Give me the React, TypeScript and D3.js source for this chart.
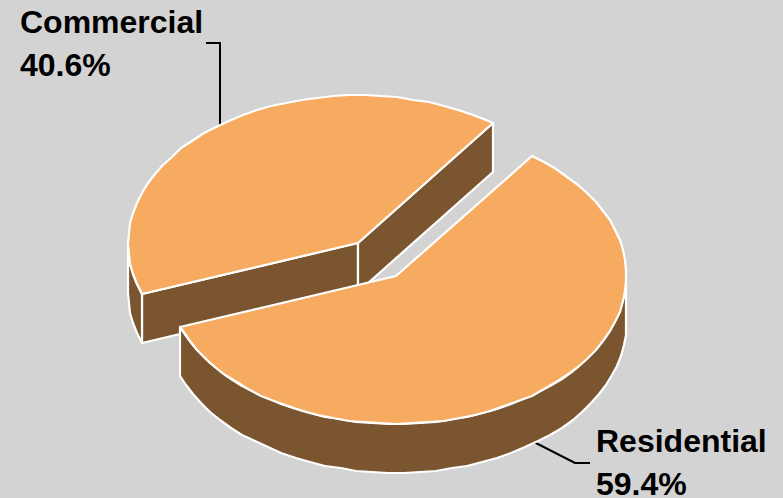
import React from "react";
import * as d3 from "d3";

// Share of the total, in the order the slices run clockwise from the first angle.
const sectors = ["Residential", "Commercial"];
const shares = [59.4, 40.6];
const shareLabels = ["59.4%", "40.6%"];

const WIDTH = 783;
const HEIGHT = 498;
const BACKGROUND = "#D3D3D3";
const TOP_COLOR = "#F7AB60";
const WALL_COLOR = "#7A5530";
const FONT = "'Liberation Sans', Arial, sans-serif";

// Tilted pie: a unit circle squashed into an ellipse, extruded downwards.
const CENTER = { x: 377.2, y: 259.5 };
const RX = 230;
const RY = 148;
const DEPTH = 49;
const EXPLODE = 0.138;
const FIRST_ANGLE = (36 * Math.PI) / 180;
const ARC_STEP = (4 * Math.PI) / 180;

const px = d3.scaleLinear().domain([-1, 1]).range([CENTER.x - RX, CENTER.x + RX]);
const py = d3.scaleLinear().domain([-1, 1]).range([CENTER.y - RY, CENTER.y + RY]);

type Pt = [number, number];
const outline = d3.line<Pt>().x((d) => d[0]).y((d) => d[1]);

const slices = d3
  .pie<number>()
  .sort(null)
  .startAngle(FIRST_ANGLE)
  .endAngle(FIRST_ANGLE + 2 * Math.PI)(shares);

// Rim point of a slice at a clock angle, snapped to whole pixels for the faceted edge.
function rim(angle: number, ox: number, oy: number, drop = 0): Pt {
  return [
    Math.round(px(Math.sin(angle) + ox)),
    Math.round(py(-Math.cos(angle) + oy)) + drop,
  ];
}

function arcPoints(a0: number, a1: number, ox: number, oy: number, drop = 0): Pt[] {
  const pts: Pt[] = [];
  for (let a = a0; a < a1; a += ARC_STEP) pts.push(rim(a, ox, oy, drop));
  pts.push(rim(a1, ox, oy, drop));
  return pts;
}

const closed = (pts: Pt[]) => (outline(pts) as string) + "Z";

function Slice({ index }: { index: number }) {
  const s = slices[index];
  const mid = (s.startAngle + s.endAngle) / 2;
  const ox = Math.sin(mid) * EXPLODE;
  const oy = -Math.cos(mid) * EXPLODE;
  const apex: Pt = [Math.round(px(ox)), Math.round(py(oy))];
  const lower = (p: Pt): Pt => [p[0], p[1] + DEPTH];
  const start = rim(s.startAngle, ox, oy);
  const end = rim(s.endAngle, ox, oy);
  const white = { stroke: "#fff", strokeWidth: 2.2, strokeLinejoin: "round" as const };

  // The visible outer wall is the part of the rim on the near half of the ellipse.
  const walls: Pt[][] = [];
  for (const k of [0, 1, 2]) {
    const lo = Math.max(s.startAngle, Math.PI / 2 + k * 2 * Math.PI);
    const hi = Math.min(s.endAngle, (3 * Math.PI) / 2 + k * 2 * Math.PI);
    if (lo < hi) {
      walls.push([
        ...arcPoints(lo, hi, ox, oy),
        ...arcPoints(lo, hi, ox, oy, DEPTH).reverse(),
      ]);
    }
  }

  // Radial cut faces show only when they turn towards the viewer.
  const cuts: Pt[][] = [];
  if (Math.sin(s.startAngle) < 0) cuts.push([apex, start, lower(start), lower(apex)]);
  if (Math.sin(s.endAngle) > 0) cuts.push([apex, end, lower(end), lower(apex)]);

  return (
    <g>
      {cuts.map((c, i) => (
        <path key={`cut${i}`} d={closed(c)} fill={WALL_COLOR} {...white} />
      ))}
      {walls.map((w, i) => (
        <path key={`wall${i}`} d={closed(w)} fill={WALL_COLOR} {...white} />
      ))}
      <path
        d={closed([apex, ...arcPoints(s.startAngle, s.endAngle, ox, oy)])}
        fill={TOP_COLOR}
        {...white}
      />
    </g>
  );
}

// Leader starts on the rim at the slice's middle angle and runs out to its label.
function anchor(index: number, drop: number): Pt {
  const s = slices[index];
  const mid = (s.startAngle + s.endAngle) / 2;
  const ox = Math.sin(mid) * EXPLODE;
  const oy = -Math.cos(mid) * EXPLODE;
  return rim(mid, ox, oy, drop);
}

function Label({ x, y, lines }: { x: number; y: number; lines: string[] }) {
  return (
    <text fontFamily={FONT} fontWeight="bold" fontSize={32} fill="#000">
      {lines.map((t, i) => (
        <tspan key={t} x={x} y={y + i * 42.5}>
          {t}
        </tspan>
      ))}
    </text>
  );
}

export default function App() {
  const [cx, cy] = anchor(1, 0);
  const [rx, ry] = anchor(0, DEPTH);
  return (
    <svg
      width={WIDTH}
      height={HEIGHT}
      viewBox={`0 0 ${WIDTH} ${HEIGHT}`}
      style={{ position: "absolute", left: 0, top: 0, display: "block" }}
    >
      <rect width={WIDTH} height={HEIGHT} fill={BACKGROUND} />
      <path
        d={outline([[cx + 1, cy], [cx + 1, 43], [206, 43]]) as string}
        fill="none"
        stroke="#000"
        strokeWidth={2}
      />
      <path
        d={outline([[rx - 5, ry - 3], [575, 463], [590, 463]]) as string}
        fill="none"
        stroke="#000"
        strokeWidth={2}
      />
      <Slice index={1} />
      <Slice index={0} />
      <Label x={20} y={33} lines={[sectors[1], shareLabels[1]]} />
      <Label x={596} y={452} lines={[sectors[0], shareLabels[0]]} />
    </svg>
  );
}
